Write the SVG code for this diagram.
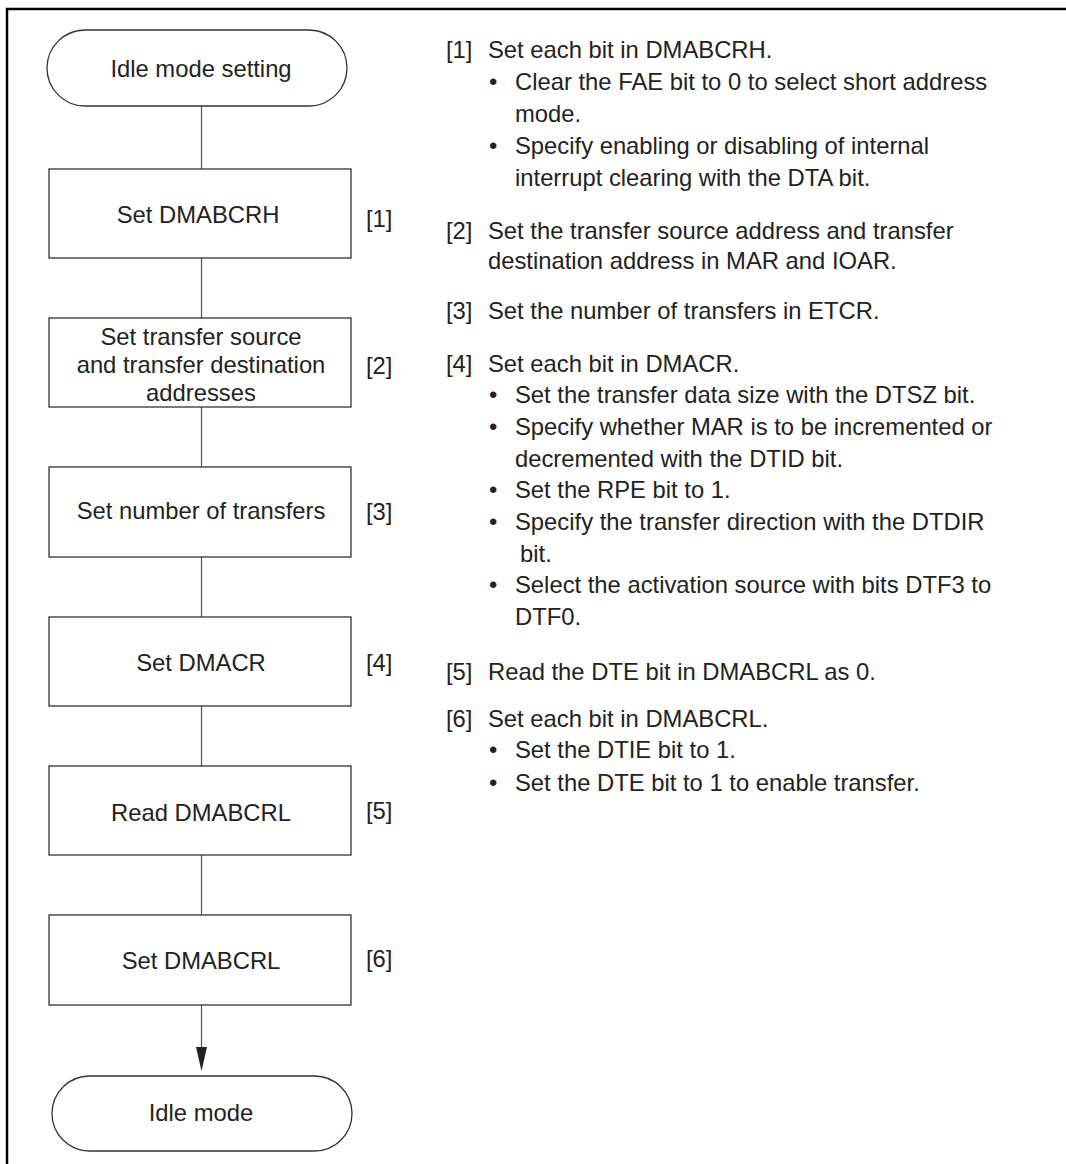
<svg xmlns="http://www.w3.org/2000/svg" width="1066" height="1164" viewBox="0 0 1066 1164">
<style>
  text { font-family: "Liberation Sans", Arial, sans-serif; font-size: 23.8px; fill: #222; }
  .c { text-anchor: middle; }
  .shape { fill: #fff; stroke: #333; stroke-width: 1.3; }
  .conn { stroke: #555; stroke-width: 1.2; fill: none; }
  .frame { fill: none; stroke: #000; stroke-width: 2.5; }
  .head { fill: #222; }
</style>
<rect width="1066" height="1164" fill="#fff"/>
<path class="frame" d="M7,1164 V9 H1066"/>

<g id="connectors">
  <line class="conn" x1="201.5" y1="106" x2="201.5" y2="169"/>
  <line class="conn" x1="201.5" y1="258" x2="201.5" y2="318"/>
  <line class="conn" x1="201.5" y1="407" x2="201.5" y2="467"/>
  <line class="conn" x1="201.5" y1="557" x2="201.5" y2="617"/>
  <line class="conn" x1="201.5" y1="706" x2="201.5" y2="766"/>
  <line class="conn" x1="201.5" y1="855" x2="201.5" y2="915"/>
  <line class="conn" x1="201.5" y1="1005" x2="201.5" y2="1048"/>
  <path class="head" d="M196,1047 L207,1047 L201.5,1071 Z"/>
</g>

<g id="start">
  <rect class="shape" x="47" y="30" width="300" height="76" rx="38" ry="38"/>
  <text class="c" x="201" y="77">Idle mode setting</text>
</g>
<g id="step1">
  <rect class="shape" x="49" y="169" width="302" height="89"/>
  <text class="c" x="198" y="223">Set DMABCRH</text>
  <text x="366" y="227">[1]</text>
</g>
<g id="step2">
  <rect class="shape" x="49" y="318" width="302" height="89"/>
  <text class="c" x="201" y="345">Set transfer source</text>
  <text class="c" x="201" y="373">and transfer destination</text>
  <text class="c" x="201" y="401">addresses</text>
  <text x="366" y="374">[2]</text>
</g>
<g id="step3">
  <rect class="shape" x="49" y="467" width="302" height="90"/>
  <text class="c" x="201" y="519">Set number of transfers</text>
  <text x="366" y="520">[3]</text>
</g>
<g id="step4">
  <rect class="shape" x="49" y="617" width="302" height="89"/>
  <text class="c" x="201" y="671">Set DMACR</text>
  <text x="366" y="671">[4]</text>
</g>
<g id="step5">
  <rect class="shape" x="49" y="766" width="302" height="89"/>
  <text class="c" x="201" y="821">Read DMABCRL</text>
  <text x="366" y="819">[5]</text>
</g>
<g id="step6">
  <rect class="shape" x="49" y="915" width="302" height="90"/>
  <text class="c" x="201" y="969">Set DMABCRL</text>
  <text x="366" y="967">[6]</text>
</g>
<g id="end">
  <rect class="shape" x="52" y="1076" width="300" height="75" rx="37.5" ry="37.5"/>
  <text class="c" x="201" y="1121">Idle mode</text>
</g>

<g id="notes">
  <text x="446" y="58">[1]</text>
  <text x="488" y="58">Set each bit in DMABCRH.</text>
  <text x="489" y="90">•</text>
  <text x="515" y="90">Clear the FAE bit to 0 to select short address</text>
  <text x="515" y="122">mode.</text>
  <text x="489" y="154">•</text>
  <text x="515" y="154">Specify enabling or disabling of internal</text>
  <text x="515" y="186">interrupt clearing with the DTA bit.</text>

  <text x="446" y="239">[2]</text>
  <text x="488" y="239">Set the transfer source address and transfer</text>
  <text x="488" y="269">destination address in MAR and IOAR.</text>

  <text x="446" y="319">[3]</text>
  <text x="488" y="319">Set the number of transfers in ETCR.</text>

  <text x="446" y="372">[4]</text>
  <text x="488" y="372">Set each bit in DMACR.</text>
  <text x="489" y="403">•</text>
  <text x="515" y="403">Set the transfer data size with the DTSZ bit.</text>
  <text x="489" y="435">•</text>
  <text x="515" y="435">Specify whether MAR is to be incremented or</text>
  <text x="515" y="467">decremented with the DTID bit.</text>
  <text x="489" y="498">•</text>
  <text x="515" y="498">Set the RPE bit to 1.</text>
  <text x="489" y="530">•</text>
  <text x="515" y="530">Specify the transfer direction with the DTDIR</text>
  <text x="520" y="562">bit.</text>
  <text x="489" y="593">•</text>
  <text x="515" y="593">Select the activation source with bits DTF3 to</text>
  <text x="515" y="625">DTF0.</text>

  <text x="446" y="680">[5]</text>
  <text x="488" y="680">Read the DTE bit in DMABCRL as 0.</text>

  <text x="446" y="727">[6]</text>
  <text x="488" y="727">Set each bit in DMABCRL.</text>
  <text x="489" y="758">•</text>
  <text x="515" y="758">Set the DTIE bit to 1.</text>
  <text x="489" y="791">•</text>
  <text x="515" y="791">Set the DTE bit to 1 to enable transfer.</text>
</g>
</svg>
